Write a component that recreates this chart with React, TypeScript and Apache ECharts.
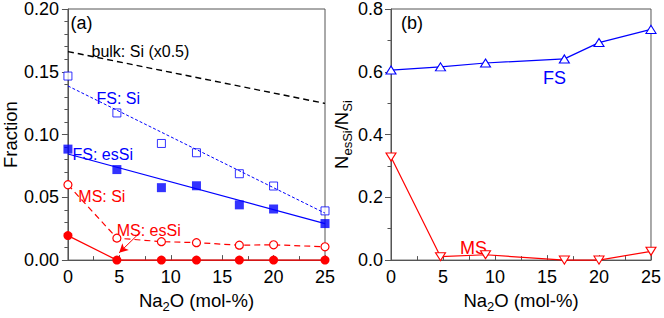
import React, { useEffect, useRef } from "react";
import * as echarts from "echarts";

// Left panel (a): composition (Na2O mol-%) and fractions
const xComp = [0, 4.76, 9.09, 12.5, 16.67, 20, 25];
const fsSi = [0.1466, 0.1172, 0.0929, 0.0855, 0.0688, 0.059, 0.0392];
const fsEsSi = [0.0884, 0.0721, 0.0577, 0.0592, 0.044, 0.0407, 0.0291];
const msSi = [0.06, 0.0175, 0.0147, 0.0139, 0.0119, 0.0122, 0.0106];
const msEsSi = [0.0195, 0, 0, 0, 0, 0, 0];
// linear fits / reference lines (endpoints)
const fitX = [0, 25];
const fsSiFit = [0.1387, 0.0374];
const fsEsSiFit = [0.0845, 0.029];
const bulkSiHalf = [0.1661, 0.1248];
// annotation arrow for "MS: esSi" (data coords)
const arrowFrom = [7.05, 0.0223];
const arrowTo = [4.98, 0.0058];

// Right panel (b): N_esSi / N_Si
const xRatio = [0, 4.76, 9.09, 16.67, 20, 25];
const fsRatio = [0.6055, 0.6156, 0.628, 0.641, 0.693, 0.735];
const msRatio = [0.3286, 0.011, 0.017, 0, 0, 0.028];

const xTicks = [0, 5, 10, 15, 20, 25];

const FONT = "'Liberation Sans', Arial, Helvetica, sans-serif";
const BLUE = "#0000ff";
const RED = "#ff0000";
const AXIS = "#555555";
const TICK_FS = 18;
const NAME_FS = 18.5;

const pair = (xs: number[], ys: number[]) => xs.map((x, i) => [x, ys[i]]);

export default function App() {
  const ref = useRef<HTMLDivElement>(null);
  useEffect(() => {
    if (!ref.current) return;
    const chart = echarts.init(ref.current, null, { renderer: "svg" });

    const richName = {
      t: { fontSize: NAME_FS, fontFamily: FONT, color: "#000", verticalAlign: "top", lineHeight: 19 },
      s: { fontSize: 13, fontFamily: FONT, color: "#000", verticalAlign: "top", padding: [9, 0, 0, 0], lineHeight: 14 },
    };

    const xAxisBase = (gridIndex: number) => ({
      type: "value" as const,
      gridIndex,
      min: xTicks[0],
      max: xTicks[xTicks.length - 1],
      interval: 5,
      axisLine: { show: true, lineStyle: { color: AXIS, width: 1 } },
      axisTick: { show: true, inside: true, length: 5, lineStyle: { color: AXIS } },
      minorTick: { show: true, splitNumber: 2, length: 4, lineStyle: { color: AXIS } },
      splitLine: { show: false },
      axisLabel: { fontSize: TICK_FS, color: "#000", margin: 8, fontFamily: FONT },
      name: "{t|Na}{s|2}{t|O (mol-%)}",
      nameLocation: "middle" as const,
      nameGap: 29,
      nameTextStyle: { fontFamily: FONT, color: "#000", rich: richName },
    });

    const textEl = (text: string, x: number, y: number, color: string, size = 16) => ({
      type: "text",
      x,
      y,
      silent: true,
      style: {
        text,
        fill: color,
        font: `${size}px ${FONT}`,
        fontSize: size,
        fontFamily: FONT,
        align: "left",
        verticalAlign: "middle",
        textAlign: "left",
        textVerticalAlign: "middle",
      },
    });

    const option: any = {
      animation: false,
      backgroundColor: "#fff",
      grid: [
        { left: 62.7, right: 339, top: 7, bottom: 48.7, show: true, borderColor: AXIS, borderWidth: 1, backgroundColor: "transparent" },
        { left: 391, right: 10, top: 7, bottom: 48.7, show: true, borderColor: AXIS, borderWidth: 1, backgroundColor: "transparent" },
      ],
      xAxis: [xAxisBase(0), xAxisBase(1)],
      yAxis: [
        {
          type: "value",
          gridIndex: 0,
          min: 0,
          max: 0.2,
          interval: 0.05,
          axisLine: { show: true, lineStyle: { color: AXIS } },
          axisTick: { show: true, inside: false, length: 6, lineStyle: { color: AXIS } },
          minorTick: { show: true, splitNumber: 5, length: 3.5, lineStyle: { color: AXIS } },
          splitLine: { show: false },
          axisLabel: { fontSize: TICK_FS, color: "#000", margin: 9, fontFamily: FONT, formatter: (v: number) => v.toFixed(2) },
          name: "Fraction",
          nameLocation: "middle",
          nameGap: 41,
          nameTextStyle: { fontSize: NAME_FS, color: "#000", fontFamily: FONT },
        },
        {
          type: "value",
          gridIndex: 1,
          min: 0,
          max: 0.8,
          interval: 0.2,
          axisLine: { show: true, lineStyle: { color: AXIS } },
          axisTick: { show: true, inside: false, length: 6, lineStyle: { color: AXIS } },
          minorTick: { show: true, splitNumber: 2, length: 3.5, lineStyle: { color: AXIS } },
          splitLine: { show: false },
          axisLabel: { fontSize: TICK_FS, color: "#000", margin: 8, fontFamily: FONT, formatter: (v: number) => v.toFixed(1) },
          name: "{t|N}{s|esSi}{t|/N}{s|Si}",
          nameLocation: "middle",
          nameGap: 36,
          nameTextStyle: { fontFamily: FONT, color: "#000", rich: richName },
        },
      ],
      series: [
        {
          name: "bulk: Si (x0.5)",
          type: "line",
          xAxisIndex: 0,
          yAxisIndex: 0,
          data: pair(fitX, bulkSiHalf),
          symbol: "none",
          lineStyle: { color: "#000", width: 1.4, type: [6, 4] },
          silent: true,
        },
        {
          name: "FS: Si fit",
          type: "line",
          xAxisIndex: 0,
          yAxisIndex: 0,
          data: pair(fitX, fsSiFit),
          symbol: "none",
          lineStyle: { color: BLUE, width: 1, type: [3, 2] },
          silent: true,
        },
        {
          name: "FS: esSi fit",
          type: "line",
          xAxisIndex: 0,
          yAxisIndex: 0,
          data: pair(fitX, fsEsSiFit),
          symbol: "none",
          lineStyle: { color: BLUE, width: 1.2 },
          silent: true,
        },
        {
          name: "FS: Si",
          type: "scatter",
          xAxisIndex: 0,
          yAxisIndex: 0,
          data: pair(xComp, fsSi),
          symbol: "rect",
          symbolSize: 8,
          itemStyle: { color: "#fff", borderColor: BLUE, borderWidth: 1 },
          clip: false,
        },
        {
          name: "FS: esSi",
          type: "scatter",
          xAxisIndex: 0,
          yAxisIndex: 0,
          data: pair(xComp, fsEsSi),
          symbol: "rect",
          symbolSize: 9,
          itemStyle: { color: BLUE, borderColor: BLUE, borderWidth: 0 },
          clip: false,
        },
        {
          name: "MS: Si",
          type: "line",
          xAxisIndex: 0,
          yAxisIndex: 0,
          data: pair(xComp, msSi),
          symbol: "circle",
          symbolSize: 8,
          showAllSymbol: true,
          lineStyle: { color: RED, width: 1.2, type: [6, 4] },
          itemStyle: { color: "#fff", borderColor: RED, borderWidth: 1.2 },
          clip: false,
        },
        {
          name: "MS: esSi",
          type: "line",
          xAxisIndex: 0,
          yAxisIndex: 0,
          data: pair(xComp, msEsSi),
          symbol: "circle",
          symbolSize: 9,
          showAllSymbol: true,
          lineStyle: { color: RED, width: 1.2 },
          itemStyle: { color: RED, borderColor: RED, borderWidth: 0 },
          clip: false,
          markLine: {
            silent: true,
            symbol: ["none", "arrow"],
            symbolSize: [7, 9],
            label: { show: false },
            lineStyle: { color: RED, width: 1, type: "solid" },
            data: [[{ coord: arrowFrom }, { coord: arrowTo }]],
          },
        },
        {
          name: "FS ratio",
          type: "line",
          xAxisIndex: 1,
          yAxisIndex: 1,
          data: pair(xRatio, fsRatio),
          symbol: "triangle",
          symbolSize: [10, 8],
          showAllSymbol: true,
          lineStyle: { color: BLUE, width: 1.2 },
          itemStyle: { color: "#fff", borderColor: BLUE, borderWidth: 1.1 },
          clip: false,
        },
        {
          name: "MS ratio",
          type: "line",
          xAxisIndex: 1,
          yAxisIndex: 1,
          data: pair(xRatio, msRatio),
          symbol: "triangle",
          symbolRotate: 180,
          symbolSize: [10, 8],
          showAllSymbol: true,
          lineStyle: { color: RED, width: 1.2 },
          itemStyle: { color: "#fff", borderColor: RED, borderWidth: 1.1 },
          clip: false,
        },
      ],
      graphic: [
        textEl("(a)", 70.5, 23, "#000", 18),
        textEl("bulk: Si (x0.5)", 91.5, 51.5, "#000"),
        textEl("FS: Si", 96.5, 98.3, BLUE),
        textEl("FS: esSi", 72.5, 154.5, BLUE),
        textEl("MS: Si", 78.3, 196.7, RED),
        textEl("MS: esSi", 116.7, 230, RED),
        textEl("(b)", 401, 23, "#000", 18),
        textEl("FS", 543, 77.7, BLUE, 18),
        textEl("MS", 460, 248, RED, 18),
      ],
    };

    chart.setOption(option);
    return () => chart.dispose();
  }, []);

  return (
    <div
      ref={ref}
      style={{ position: "fixed", left: 0, top: 0, width: 664, height: 318, background: "#fff" }}
    />
  );
}
